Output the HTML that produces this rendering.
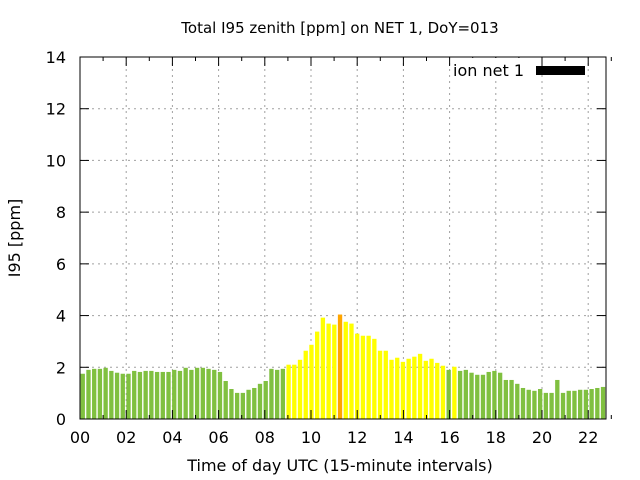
<!DOCTYPE html>
<html><head><meta charset="utf-8"><style>
html,body{margin:0;padding:0;background:#fff;}
svg{display:block;font-family:"DejaVu Sans","Liberation Sans",sans-serif;}
</style></head><body>
<svg id="s" width="640" height="480" viewBox="0 0 640 480" xmlns="http://www.w3.org/2000/svg">
<rect width="640" height="480" fill="#fff"/>
<g id="grid" stroke="#a0a0a0" stroke-width="1" stroke-dasharray="2,4"></g>
<g id="bars"></g>
<g id="axes" stroke="#000" stroke-width="1" fill="none"></g>
<g id="labels" font-size="16" fill="#000"></g>
<text x="340" y="33" font-size="15" text-anchor="middle">Total I95 zenith [ppm] on NET 1, DoY=013</text>
<text x="340" y="471" font-size="16" text-anchor="middle">Time of day UTC (15-minute intervals)</text>
<text transform="translate(20,238) rotate(-90)" font-size="16" text-anchor="middle">I95 [ppm]</text>
<rect x="451" y="58" width="78" height="22" fill="#fff"/>
<text x="524" y="76" font-size="16" text-anchor="end">ion net 1</text>
<rect x="536" y="66" width="49" height="9" fill="#000"/>
</svg>
<script>
var NS="http://www.w3.org/2000/svg";
function el(p,t,a){var e=document.createElementNS(NS,t);for(var k in a)e.setAttribute(k,a[k]);document.getElementById(p).appendChild(e);return e;}
var X0=80,X1=606,Y0=419,Y1=57,U=(Y0-Y1)/14;
for(var v=0;v<=14;v+=2){var y=Y0-v*U;
 if(v>0&&v<14)el("grid","line",{x1:X0,x2:X1,y1:y,y2:y});
 el("axes","line",{x1:X0,x2:X0+9,y1:y,y2:y});el("axes","line",{x1:X1,x2:X1-9,y1:y,y2:y});
 var t=el("labels","text",{x:66,y:y+6,"text-anchor":"end"});t.textContent=v;}
for(var k=0;k<12;k++){var x=80+k*46.2;
 if(k>0)el("grid","line",{x1:x,x2:x,y1:Y1,y2:Y0});
 el("axes","line",{x1:x,x2:x,y1:Y0,y2:Y0-9});el("axes","line",{x1:x,x2:x,y1:Y1,y2:Y1+9});
 var t=el("labels","text",{x:x,y:443,"text-anchor":"middle"});t.textContent=(k*2<10?"0":"")+(k*2);}
for(var k=0;k<12;k++){var x=80+k*46.2+23.1;
 el("axes","line",{x1:x,x2:x,y1:Y0,y2:Y0-4});el("axes","line",{x1:x,x2:x,y1:Y1,y2:Y1+4});}
el("axes","rect",{x:X0,y:Y1,width:X1-X0,height:Y0-Y1});
var d=[1.75,1.9,1.94,1.94,1.98,1.86,1.79,1.75,1.75,1.86,1.82,1.86,1.86,1.82,1.82,1.82,1.9,1.86,1.98,1.9,1.98,1.98,1.94,1.9,1.82,1.47,1.16,1.01,1.01,1.13,1.2,1.36,1.47,1.94,1.9,1.94,
2.1,2.1,2.29,2.64,2.87,3.38,3.92,3.69,3.65,4.04,3.76,3.69,3.3,3.22,3.22,3.1,2.64,2.64,2.29,2.37,2.21,2.33,2.41,2.52,2.25,2.33,2.17,2.06,
1.9,2.02,1.86,1.9,1.79,1.71,1.71,1.82,1.86,1.79,1.51,1.51,1.36,1.2,1.13,1.09,1.16,1.01,1.01,1.51,1.01,1.09,1.09,1.13,1.13,1.16,1.2,1.24];
var W=(X1-X0)/92;
for(var i=0;i<d.length;i++){var c="#80c040";
 if(i>=36&&i<=63)c="#ffff00";if(i==65)c="#ffff00";if(i==45)c="#ffa500";
 var h=d[i]*U;el("bars","rect",{x:X0+i*W+0.6,y:Y0-h,width:W-1.4,height:h,fill:c});}
</script>
</body></html>
